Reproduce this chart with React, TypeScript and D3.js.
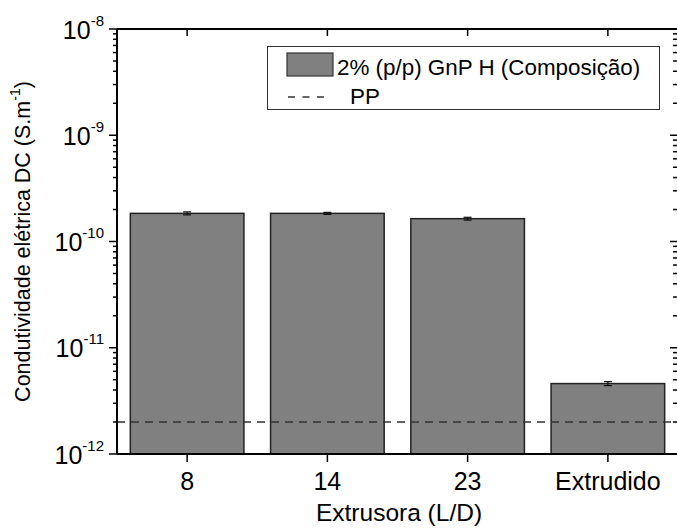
import React from 'react';
import * as d3 from 'd3';

const categories = ['8', '14', '23', 'Extrudido'];
const values = [1.84e-10, 1.84e-10, 1.64e-10, 4.6e-12];
const errors = [0.06e-10, 0.04e-10, 0.05e-10, 0.2e-12];
const ppValue = 2e-12;
const yMajorExps = [-12, -11, -10, -9, -8];
const legendLabels = ['2% (p/p) GnP H (Composição)', 'PP'];

const W = 677, H = 531;
const L = 117, R = 678, T = 29, B = 454;
const FONT = '"Liberation Sans", Arial, Helvetica, sans-serif';

export default function App() {
  const x = d3.scaleBand().domain(categories).range([L, R]).paddingInner(0.19).paddingOuter(0.095);
  const xc = d3.scalePoint().domain(categories).range([L, R]).padding(0.5);
  const y = d3.scaleLog().domain([1e-12, 1e-8]).range([B, T]);
  const minor: number[] = [];
  for (let e = -12; e < -8; e++) for (let m = 2; m <= 9; m++) minor.push(m * Math.pow(10, e));
  const bw = x.bandwidth();

  return (
    <svg width={W} height={H} style={{ position: 'absolute', left: 0, top: 0, background: '#fff' }} fontFamily={FONT}>
      {/* bars */}
      {categories.map((c, i) => (
        <rect key={c} x={xc(c)! - bw / 2} y={y(values[i])} width={bw} height={B - y(values[i])}
          fill="#808080" stroke="#222" strokeWidth={1.5} />
      ))}
      {/* error bars */}
      {categories.map((c, i) => {
        const cx = xc(c)!;
        const y1 = y(values[i] + errors[i]), y2 = y(values[i] - errors[i]);
        return (
          <g key={'e' + c} stroke="#111" strokeWidth={1.2}>
            <line x1={cx} x2={cx} y1={y1} y2={y2} />
            <line x1={cx - 4} x2={cx + 4} y1={y1} y2={y1} />
            <line x1={cx - 4} x2={cx + 4} y1={y2} y2={y2} />
          </g>
        );
      })}
      {/* PP line */}
      <line x1={L} x2={R} y1={y(ppValue)} y2={y(ppValue)} stroke="#333" strokeWidth={1.4} strokeDasharray="8,6" />
      {/* frame */}
      <g stroke="#000" strokeWidth={2} fill="none">
        <line x1={L} x2={L} y1={T} y2={B} />
        <line x1={L} x2={R} y1={T} y2={T} />
        <line x1={L} x2={R} y1={B} y2={B} />
        <line x1={R} x2={R} y1={T} y2={B} />
      </g>
      {/* ticks */}
      <g stroke="#000" strokeWidth={1.5}>
        {yMajorExps.map(e => (
          <g key={'ym' + e}>
            <line x1={L - 8} x2={L} y1={y(Math.pow(10, e))} y2={y(Math.pow(10, e))} />
            <line x1={R - 8} x2={R} y1={y(Math.pow(10, e))} y2={y(Math.pow(10, e))} />
          </g>
        ))}
        {minor.map((v, i) => (
          <g key={'yn' + i}>
            <line x1={L - 4} x2={L} y1={y(v)} y2={y(v)} />
            <line x1={R - 5} x2={R} y1={y(v)} y2={y(v)} />
          </g>
        ))}
        {categories.map(c => (
          <g key={'xt' + c}>
            <line x1={xc(c)!} x2={xc(c)!} y1={B} y2={B + 8} />
            <line x1={xc(c)!} x2={xc(c)!} y1={T} y2={T + 7} />
          </g>
        ))}
      </g>
      {/* y tick labels */}
      {yMajorExps.map(e => (
        <text key={'yl' + e} x={104} y={y(Math.pow(10, e)) + 9.5} textAnchor="end" fontSize={25} fill="#000">
          <tspan>10</tspan>
          <tspan fontSize={15} dy={-13}>{String(e)}</tspan>
        </text>
      ))}
      {/* x tick labels */}
      {categories.map(c => (
        <text key={'xl' + c} x={xc(c)!} y={490} textAnchor="middle" fontSize={25} fill="#000">{c}</text>
      ))}
      {/* axis titles */}
      <text x={(L + 677) / 2 + 2} y={521} textAnchor="middle" fontSize={24.5} fill="#000">Extrusora (L/D)</text>
      <text transform={`translate(30,${(T + B) / 2}) rotate(-90)`} textAnchor="middle" fontSize={21.5} fill="#000">
        <tspan>Condutividade elétrica DC (S.m</tspan>
        <tspan fontSize={14} dy={-10}>-1</tspan>
        <tspan dy={10}>)</tspan>
      </text>
      {/* legend */}
      <rect x={267.5} y={46.5} width={392} height={63} fill="#fff" stroke="#333" strokeWidth={1} />
      <rect x={287} y={53} width={46} height={23} fill="#808080" stroke="#333" strokeWidth={1.2} />
      <text x={337} y={75} fontSize={22.4} fill="#000">{legendLabels[0]}</text>
      <line x1={288} x2={325} y1={97} y2={97} stroke="#333" strokeWidth={1.4} strokeDasharray="7,7.5" />
      <text x={350} y={104} fontSize={22.4} fill="#000">{legendLabels[1]}</text>
    </svg>
  );
}
